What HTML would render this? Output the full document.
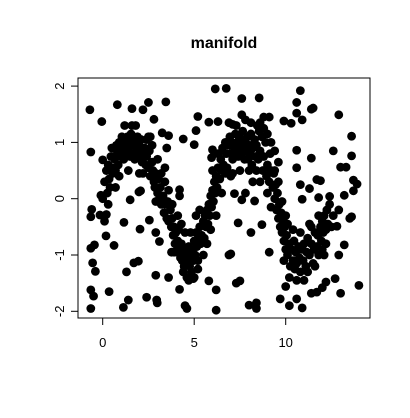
<!DOCTYPE html>
<html><head><meta charset="utf-8"><style>
body{margin:0;background:#fff;}
svg{display:block;font-family:"Liberation Sans",Arial,sans-serif;}
</style></head><body>
<svg id="chart" width="410" height="418">
<text x="224" y="48" text-anchor="middle" font-size="16" font-weight="bold">manifold</text>
<rect x="78" y="78" width="292" height="240" fill="none" stroke="#000" stroke-width="1"/>
<g id="xaxis"></g>
<g id="yaxis"></g>
<g id="pts"></g>
</svg>
<script>
const xTicks=[0,5,10];
const yTicks=[-2,-1,0,1,2];
const xs=[-0.7,-0.05,0.8,1.6,2.2,2.5,2.8,3.45,3.25,3.6,4.4,5.0,5.1,5.2,6.15,6.75,5.8,6.3,7.1,7.6,7.6,8.55,9.1,9.9,10.3,10.6,10.8,10.6,10.9,11.4,11.5,12.9,13.6,12.6,11.4,10.6,10.6,13.6,13.0,13.3,11.7,11.9,10.8,11.3,13.7,13.9,13.7,13.2,10.9,11.8,12.4,12.9,13.5,13.6,12.8,13.2,12.9,12.7,14.0,13.0,12.2,12.0,11.7,11.4,10.6,10.0,9.7,10.2,10.9,8.4,8.0,8.4,7.5,7.3,6.9,7.0,6.2,6.2,5.8,4.95,4.6,4.5,4.2,4.4,3.6,2.98,2.95,2.9,2.4,1.4,1.13,1.3,1.7,1.95,0.35,-0.65,-0.5,-0.65,-0.55,-0.4,-0.45,-0.65,0.18,0.62,1.16,1.5,2.04,2.07,1.98,2.55,2.9,3.1,3.76,-0.65,0,-0.6,-0.65,-0.1,-0.15,0.2,9.1,8.7,8.1,7.4,7.6,7.2,7.8,8.3,4.2,4.2,6.0,5.95,
0.0,0.1,0.2,0.25,0.3,0.35,0.4,0.45,0.5,0.55,0.6,0.65,0.7,0.75,0.8,0.85,0.9,0.95,1.0,1.05,1.1,1.15,1.2,1.25,1.3,1.35,1.4,1.45,1.5,1.55,1.6,1.65,1.7,1.75,1.8,1.85,1.9,1.95,2.0,2.05,2.1,2.15,2.2,2.3,2.35,2.4,2.5,2.55,2.6,2.7,2.75,2.8,2.85,2.9,3.0,3.05,3.1,3.15,3.2,3.3,3.35,3.4,3.45,3.5,3.55,3.6,3.7,3.75,3.8,3.85,3.9,3.95,4.0,4.05,4.1,4.15,4.2,4.25,4.3,4.35,4.4,4.45,4.5,4.55,4.6,4.65,4.7,4.75,4.8,4.85,4.9,4.95,5.0,5.05,5.1,5.15,5.2,5.25,5.3,5.35,5.4,5.5,5.55,5.6,5.65,5.7,5.75,5.8,5.85,5.9,5.95,6.0,6.05,6.1,6.15,6.2,6.25,6.3,6.4,6.45,6.5,6.55,6.6,6.7,6.75,6.8,6.9,6.95,7.0,7.05,7.1,7.2,7.25,7.3,7.35,7.4,7.45,7.5,7.55,7.6,7.65,7.7,7.75,7.8,7.85,7.9,7.95,8.0,8.05,8.1,8.15,8.2,8.3,8.35,8.4,8.45,8.5,8.55,8.6,8.7,8.75,8.8,8.9,8.95,9.0,9.1,9.15,9.2,9.3,9.35,9.4,9.45,9.5,9.55,9.6,9.65,9.7,9.75,9.8,9.85,9.9,9.95,10.0,10.05,10.1,10.2,10.25,10.3,10.4,10.45,10.5,10.55,10.6,10.7,10.75,10.8,10.9,10.95,11.0,11.1,11.15,11.2,11.3,11.4,11.5,11.55,11.6,11.7,11.75,11.8,11.9,11.95,12.0,12.05,12.1,12.2,12.25,12.3,8.6,8.8,9.0,9.2,9.4,9.6,2.5,
0.3,0.5,0.9,1.2,1.4,1.8,2.2,2.4,2.7,2.9,3.2,3.4,3.6,3.8,3.9,4.1,4.3,4.5,4.6,4.8,5.0,5.2,5.3,5.5,5.7,5.9,6.0,6.2,6.3,6.5,6.7,6.9,7.1,7.3,7.5,7.8,8.0,8.2,8.4,8.6,8.8,9.0,9.2,9.4,9.6,9.8,10.0,10.2,10.4,10.6,10.8,11.0,11.2,11.4,11.6,11.8,12.0,12.2,12.4,12.5,12.6,0.1,0.7,1.6,2.6,3.0,4.7,5.1,7.0,8.1,9.9,10.1,11.3,12.1,3.5,2.0];
const ys=[1.58,1.37,1.67,1.6,1.58,1.71,1.41,1.72,1.17,1.12,1.06,0.96,1.21,1.46,1.95,1.96,1.36,1.37,1.32,1.78,1.49,1.79,1.45,1.38,1.34,1.71,1.92,1.52,1.4,1.59,1.61,1.49,1.11,0.85,0.72,0.86,0.55,0.76,0.56,0.56,0.34,0.32,0.25,0.18,0.33,0.26,0.14,0.06,-0.01,0.02,0.04,-0.2,-0.35,-0.32,-0.49,-0.82,-1.0,-1.42,-1.54,-1.68,-1.48,-1.58,-1.66,-1.68,-1.78,-1.56,-1.78,-1.9,-1.94,-1.85,-1.89,-1.95,-1.46,-1.5,-1.0,-0.98,-1.98,-1.62,-1.46,-1.42,-1.95,-1.9,-1.61,-1.3,-1.4,-1.85,-1.8,-1.36,-1.75,-1.8,-1.93,-1.3,-1.14,-1.11,-1.65,-1.62,-1.73,-1.95,-1.14,-1.29,-0.82,-0.88,-0.66,-0.83,-0.42,-0.02,-0.54,0.14,0.12,-0.38,-0.6,-0.76,-0.95,0.83,0.69,-0.19,-0.32,0.06,-0.29,-0.28,-0.95,-0.46,-0.6,-0.43,-0.02,0.09,0.1,-0.04,0.16,0.05,0.87,0.73,
0.0,0.3,0.5,0.1,0.6,0.35,0.2,0.75,0.55,0.45,0.9,0.7,0.5,0.95,0.8,0.6,1.0,0.85,0.75,1.1,0.9,0.7,1.05,0.8,0.95,1.1,0.85,1.0,0.75,1.15,0.95,1.05,0.8,0.7,1.0,0.9,1.1,0.75,0.95,0.85,1.05,0.65,0.8,0.9,0.6,0.75,0.55,0.85,0.4,0.65,0.5,0.3,0.2,0.45,0.1,0.35,0.0,0.2,-0.1,0.05,-0.25,0.3,-0.1,-0.35,-0.05,-0.4,-0.2,-0.5,-0.35,-0.65,-0.5,-0.8,-0.6,-0.95,-0.75,-0.55,-0.9,-1.05,-0.8,-1.1,-0.95,-1.2,-1.0,-0.9,-1.15,-1.05,-0.85,-1.2,-1.0,-1.3,-0.9,-1.1,-0.75,-1.0,-0.6,-0.85,-1.1,-0.7,-0.5,-0.8,-0.65,-0.4,-0.7,-0.3,-0.5,-0.2,-0.45,-0.1,-0.3,0.05,-0.15,0.15,-0.05,0.3,0.1,0.4,0.2,0.55,0.35,0.7,0.5,0.9,0.6,1.0,0.8,0.55,0.95,1.1,0.8,1.0,0.7,0.9,1.15,0.85,1.0,0.75,1.1,0.9,1.05,0.8,1.2,0.95,0.7,1.05,0.85,1.1,0.7,0.95,0.8,1.15,0.6,0.9,1.05,0.75,0.95,1.3,0.7,1.2,0.85,1.1,0.5,0.75,1.0,0.4,0.6,0.3,0.8,0.5,0.2,0.45,0.0,0.25,-0.2,0.1,-0.35,-0.1,-0.5,-0.25,-0.6,-0.4,-0.75,-0.5,-0.9,-0.65,-1.0,-0.8,-1.2,-0.9,-1.1,-0.75,-1.25,-0.95,-1.15,-0.85,-1.05,-1.3,-0.9,-1.1,-0.8,-1.2,-0.95,-0.7,-1.0,-0.8,-1.15,-0.9,-0.6,-0.85,-0.65,-1.0,-0.5,-0.75,-0.4,-0.6,-0.3,-0.55,-0.2,-0.45,1.35,1.25,1.15,1.0,0.85,0.65,1.1,
-0.1,0.9,0.4,1.3,0.5,1.3,0.45,1.05,0.95,-0.05,0.45,0.55,0.15,-0.1,-0.95,-0.3,-0.45,-0.6,-1.4,-0.6,-1.4,-1.25,-0.2,-1.0,-0.8,-0.55,0.5,-0.3,0.8,0.1,0.45,1.35,0.45,1.3,0.5,1.4,0.5,0.3,0.5,0.3,1.45,0.1,-0.15,0.5,0.3,-0.05,-0.3,-1.4,-0.55,-1.45,-0.6,-1.45,-1.3,-0.5,-1.2,-0.3,-0.9,-0.8,-0.1,-0.5,-0.3,-0.4,0.2,1.3,1.1,0.7,-1.45,-0.3,0.4,1.35,-1.1,-0.45,-0.45,-1.0,0.9,0.45];
const NS='http://www.w3.org/2000/svg';
function sx(v){return 102.7+v*18.3;}
function sy(v){return 198.7-v*56.3;}
const xa=document.getElementById('xaxis'),ya=document.getElementById('yaxis'),pg=document.getElementById('pts');
function mk(t,a){const e=document.createElementNS(NS,t);for(const k in a)e.setAttribute(k,a[k]);return e;}
const xl=mk('line',{x1:sx(xTicks[0]),x2:sx(xTicks[xTicks.length-1]),y1:318,y2:318,stroke:'#000'});


xa.appendChild(xl);
xTicks.forEach(t=>{
 const l=mk('line',{x1:sx(t),x2:sx(t),y1:318,y2:325,stroke:'#000'});
 
 
 xa.appendChild(l);
 const tx=mk('text',{x:sx(t),y:347,'text-anchor':'middle','font-size':'13'});
 
 
 tx.textContent=t;xa.appendChild(tx);
});
const yl=mk('line',{x1:78,x2:78,y1:sy(yTicks[0]),y2:sy(yTicks[yTicks.length-1]),stroke:'#000'});


ya.appendChild(yl);
yTicks.forEach(t=>{
 const l=mk('line',{x1:71,x2:78,y1:sy(t),y2:sy(t),stroke:'#000'});
 
 
 ya.appendChild(l);
 const tx=mk('text',{x:0,y:0,'text-anchor':'middle','font-size':'13',transform:`translate(64,${sy(t)}) rotate(-90)`});
 
 
 tx.textContent=t;ya.appendChild(tx);
});
for(let i=0;i<xs.length;i++){
 const c=mk('circle',{cx:sx(xs[i]),cy:sy(ys[i]),r:4.4,fill:'#000'});
 
 
 pg.appendChild(c);
}
</script>
</body></html>
